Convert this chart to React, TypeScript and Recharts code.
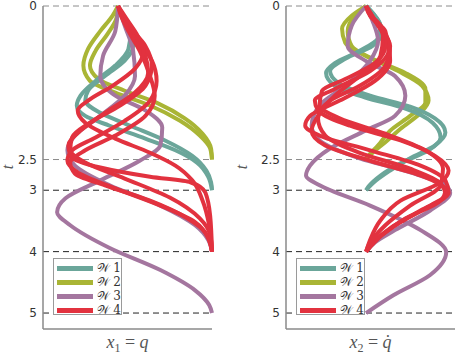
import { LineChart, Line, XAxis, YAxis, ReferenceLine, Legend, Label } from "recharts"

type Pt = [number, number] // [t, x]

// left panel: x1 = q
const qW1a: Pt[] = [[0,0],[.21,.07],[.45,.13],[.70,.11],[.97,-.03],[1.22,-.24],[1.46,-.40],[1.62,-.44],[1.79,-.35],[1.95,-.09],[2.16,.29],[2.35,.61],[2.55,.84],[2.78,.96],[3,1]]
const qW1b: Pt[] = [[0,0],[.16,.05],[.41,.14],[.65,.16],[.89,.07],[1.14,-.14],[1.38,-.32],[1.54,-.35],[1.74,-.19],[1.95,.13],[2.19,.5],[2.44,.79],[2.68,.94],[2.87,.99],[3,1]]
const qW2a: Pt[] = [[0,0],[.16,-.06],[.41,-.19],[.70,-.32],[.97,-.37],[1.22,-.30],[1.41,-.03],[1.62,.34],[1.87,.66],[2.11,.87],[2.32,.98],[2.5,1]]
const qW2b: Pt[] = [[0,0],[.21,-.02],[.45,-.11],[.73,-.24],[.97,-.30],[1.19,-.21],[1.38,.07],[1.59,.43],[1.83,.71],[2.08,.90],[2.32,.99],[2.5,1]]
const qW3a: Pt[] = [[0,0],[.41,-.03],[.81,-.16],[1.14,-.19],[1.46,-.03],[1.70,.29],[1.98,.47],[2.27,.45],[2.52,.23],[2.84,-.19],[3.13,-.56],[3.36,-.65],[3.57,-.51],[3.94,-.09],[4.30,.45],[4.63,.82],[4.87,.97],[5,1]]
const qW3b: Pt[] = [[0,0],[.32,.07],[.73,.16],[1.14,.18],[1.46,.07],[1.79,-.19],[2.11,-.46],[2.35,-.54],[2.6,-.46],[2.92,-.09],[3.25,.45],[3.57,.82],[3.81,.96],[4,1]]
const qW4a: Pt[] = [[0,0],[.24,.06],[.57,.21],[.89,.36],[1.22,.41],[1.54,.34],[1.87,.07],[2.14,-.24],[2.35,-.49],[2.52,-.54],[2.71,-.43],[2.97,-.03],[3.25,.45],[3.52,.82],[3.78,.96],[4,1]]
const qW4b: Pt[] = [[0,0],[.32,.11],[.65,.29],[.97,.36],[1.30,.29],[1.62,.02],[1.90,-.30],[2.14,-.49],[2.35,-.51],[2.55,-.35],[2.81,.07],[3.12,.55],[3.46,.87],[3.73,.98],[4,1]]
const qW4c: Pt[] = [[0,0],[.16,.04],[.49,.16],[.81,.29],[1.09,.32],[1.41,.18],[1.74,-.14],[2.03,-.40],[2.27,-.53],[2.47,-.49],[2.63,-.19],[2.78,.34],[2.87,.77],[3.04,.93],[3.41,.98],[4,1]]
const qW4d: Pt[] = [[0,0],[.11,.02],[.41,.11],[.73,.23],[1.14,.34],[1.46,.39],[1.79,.29],[2.11,-.03],[2.35,-.35],[2.55,-.51],[2.73,-.46],[2.92,-.14],[3.17,.34],[3.46,.74],[3.69,.93],[4,1]]
const qW4e: Pt[] = [[0,0],[.21,.09],[.49,.21],[.73,.27],[1.02,.18],[1.30,-.06],[1.54,-.32],[1.70,-.43],[1.90,-.35],[2.16,-.03],[2.39,.34],[2.6,.61],[2.84,.79],[3.17,.90],[3.57,.97],[4,1]]

// right panel: x2 = q dot
const dW1a: Pt[] = [[0,0],[.11,.08],[.32,.18],[.52,.15],[.73,-.08],[.93,-.39],[1.09,-.5],[1.3,-.39],[1.49,-.01],[1.67,.49],[1.9,.83],[2.14,.93],[2.35,.78],[2.56,.43],[2.76,.18],[2.94,.03],[3,0]]
const dW1b: Pt[] = [[0,0],[.16,.11],[.41,.2],[.65,.08],[.86,-.26],[1.06,-.45],[1.25,-.35],[1.46,.05],[1.64,.55],[1.83,.86],[2.06,.99],[2.27,.86],[2.48,.55],[2.68,.3],[2.89,.08],[3,0]]
const dW2a: Pt[] = [[0,0],[.16,-.18],[.37,-.3],[.6,-.26],[.81,-.01],[1.06,.4],[1.3,.7],[1.54,.78],[1.74,.68],[2,.43],[2.22,.24],[2.39,.08],[2.5,0]]
const dW2b: Pt[] = [[0,0],[.16,-.14],[.41,-.23],[.65,-.18],[.86,.08],[1.09,.49],[1.35,.74],[1.57,.74],[1.79,.55],[2.03,.3],[2.27,.15],[2.44,.03],[2.5,0]]
const dW3a: Pt[] = [[0,0],[.32,-.18],[.65,-.23],[.89,-.01],[1.14,.36],[1.46,.49],[1.79,.36],[2.03,-.01],[2.32,-.45],[2.6,-.7],[2.76,-.75],[2.92,-.58],[3.25,.05],[3.65,.68],[4.01,1],[4.38,.8],[4.71,.34],[5,0]]
const dW3b: Pt[] = [[0,0],[.24,.08],[.57,.15],[.89,.05],[1.3,-.26],[1.62,-.58],[1.95,-.68],[2.19,-.58],[2.48,-.08],[2.71,.55],[2.92,.99],[3.04,1.05],[3.33,.8],[3.65,.36],[3.85,.11],[4,0]]
const dW4a: Pt[] = [[0,0],[.24,.11],[.57,.28],[.89,.3],[1.22,.11],[1.54,-.33],[1.79,-.7],[1.95,-.76],[2.11,-.58],[2.35,.05],[2.6,.68],[2.84,.99],[3.04,1.03],[3.25,.8],[3.52,.43],[3.78,.15],[4,0]]
const dW4b: Pt[] = [[0,0],[.16,.05],[.41,.24],[.73,.28],[1.06,.05],[1.35,-.39],[1.54,-.64],[1.7,-.6],[1.95,-.2],[2.19,.43],[2.44,.86],[2.68,1.03],[2.87,.93],[3.17,.43],[3.49,.18],[3.81,.05],[4,0]]
const dW4c: Pt[] = [[0,0],[.32,.15],[.65,.3],[.97,.24],[1.3,-.08],[1.54,-.45],[1.83,-.6],[2.11,-.51],[2.39,-.08],[2.65,.55],[2.89,.93],[3.08,.99],[3.33,.68],[3.62,.3],[3.86,.08],[4,0]]
const dW4d: Pt[] = [[0,0],[.11,.03],[.32,.18],[.65,.24],[.93,.11],[1.19,-.26],[1.38,-.55],[1.62,-.58],[1.83,-.33],[2.08,.24],[2.35,.74],[2.65,.96],[2.92,.93],[3.25,.55],[3.57,.24],[3.9,.03],[4,0]]
const dW4e: Pt[] = [[0,0],[.21,.1],[.49,.21],[.81,.18],[1.14,-.08],[1.46,-.39],[1.79,-.6],[2.03,-.68],[2.27,-.51],[2.52,.05],[2.76,.68],[3,.99],[3.17,.93],[3.46,.49],[3.73,.2],[4,0]]

const colors = ["#6BA69A", "#A9B535", "#A4769F", "#E2323F"]
const legendNames = ["\u{1D4B2} 1", "\u{1D4B2} 2", "\u{1D4B2} 3", "\u{1D4B2} 4"]
const tTicks = [0, 2.5, 3, 4, 5]
const greyLines = [0, 2.5]
const darkLines = [3, 4, 5]

// [group index, points] in drawing order
const leftCurves: [number, Pt[]][] = [
  [1, qW2a], [1, qW2b], [0, qW1a], [0, qW1b], [2, qW3a], [2, qW3b],
  [3, qW4a], [3, qW4b], [3, qW4c], [3, qW4d], [3, qW4e],
]
const rightCurves: [number, Pt[]][] = [
  [1, dW2a], [1, dW2b], [0, dW1a], [0, dW1b], [2, dW3a], [2, dW3b],
  [3, dW4a], [3, dW4b], [3, dW4c], [3, dW4d], [3, dW4e],
]

const toRows = (pts: Pt[]) => pts.map(([t, x]) => ({ t, x }))

function WLegend() {
  return (
    <div
      style={{
        width: 69,
        height: 57,
        boxSizing: "border-box",
        border: "1px solid #9a9a9a",
        background: "#fff",
        paddingTop: 2,
      }}
    >
      {legendNames.map((n, i) => (
        <div key={n} style={{ height: 14, display: "flex", alignItems: "center" }}>
          <div style={{ width: 38, height: 5, marginLeft: 3, marginRight: 4, background: colors[i] }} />
          <span style={{ fontFamily: "DejaVu Serif, Liberation Serif", fontSize: 12, color: "#333", whiteSpace: "nowrap" }}>{n}</span>
        </div>
      ))}
    </div>
  )
}

interface PanelProps {
  curves: [number, Pt[]][]
  domain: [number, number]
  width: number
  axisWidth: number
  tLabelX: number
  sub: string
  rhs: string
}

function Panel({ curves, domain, width, axisWidth, tLabelX, sub, rhs }: PanelProps) {
  return (
    <LineChart
      layout="vertical"
      width={width}
      height={358}
      margin={{ top: 6, right: width - axisWidth - 169, bottom: 0, left: 0 }}
    >
      <XAxis
        type="number"
        dataKey="x"
        domain={domain}
        tick={false}
        tickLine={false}
        height={29}
        axisLine={{ stroke: "#8a8a8a", strokeWidth: 1.5 }}
      >
        <Label
          content={(p: any) => {
            const vb = p.viewBox
            return (
              <text x={vb.x + vb.width / 2} y={vb.y + 19} textAnchor="middle" fill="#555" fontFamily="Liberation Serif" fontSize={18}>
                <tspan fontStyle="italic">x</tspan>
                <tspan fontSize={12} dy={4}>{sub}</tspan>
                <tspan dy={-4}> = </tspan>
                <tspan fontStyle="italic">{rhs}</tspan>
              </text>
            )
          }}
        />
      </XAxis>
      <YAxis
        type="number"
        dataKey="t"
        domain={[0, 5.26]}
        ticks={tTicks}
        interval={0}
        width={axisWidth}
        tickLine={false}
        tickSize={0}
        tickMargin={6}
        tick={{ fill: "#333", fontSize: 12, fontFamily: "DejaVu Sans" }}
        axisLine={{ stroke: "#8a8a8a", strokeWidth: 1.5 }}
      >
        <Label
          content={() => (
            <text x={tLabelX} y={167} transform={`rotate(-90 ${tLabelX} 167)`} textAnchor="middle" fill="#555" fontFamily="Liberation Serif" fontStyle="italic" fontSize={16}>
              t
            </text>
          )}
        />
      </YAxis>
      {greyLines.map((v) => (
        <ReferenceLine key={"g" + v} y={v} stroke="#8c8c8c" strokeDasharray="6 4" strokeWidth={1} />
      ))}
      {darkLines.map((v) => (
        <ReferenceLine key={"d" + v} y={v} stroke="#222" strokeDasharray="6 4" strokeWidth={1} />
      ))}
      {curves.map(([g, pts], i) => (
        <Line
          key={i}
          data={toRows(pts)}
          dataKey="x"
          type="monotone"
          stroke={colors[g]}
          strokeWidth={4}
          dot={false}
          activeDot={false}
          legendType="none"
          isAnimationActive={false}
        />
      ))}
      <Legend
        layout="vertical"
        align="center"
        verticalAlign="middle"
        wrapperStyle={{ left: axisWidth + 10, top: 258, width: 69, height: 57 }}
        content={() => <WLegend />}
      />
    </LineChart>
  )
}

export default function App() {
  return (
    <div style={{ position: "absolute", left: 0, top: 0, width: 455, height: 358, background: "#fff" }}>
      <div style={{ position: "absolute", left: 0, top: 0 }}>
        <Panel curves={leftCurves} domain={[-0.8, 1.0]} width={230} axisWidth={43} tLabelX={13} sub="1" rhs="q" />
      </div>
      <div style={{ position: "absolute", left: 230, top: 0 }}>
        <Panel curves={rightCurves} domain={[-1.0, 1.11]} width={225} axisWidth={56} tLabelX={17} sub="2" rhs={"q\u0307"} />
      </div>
    </div>
  )
}
